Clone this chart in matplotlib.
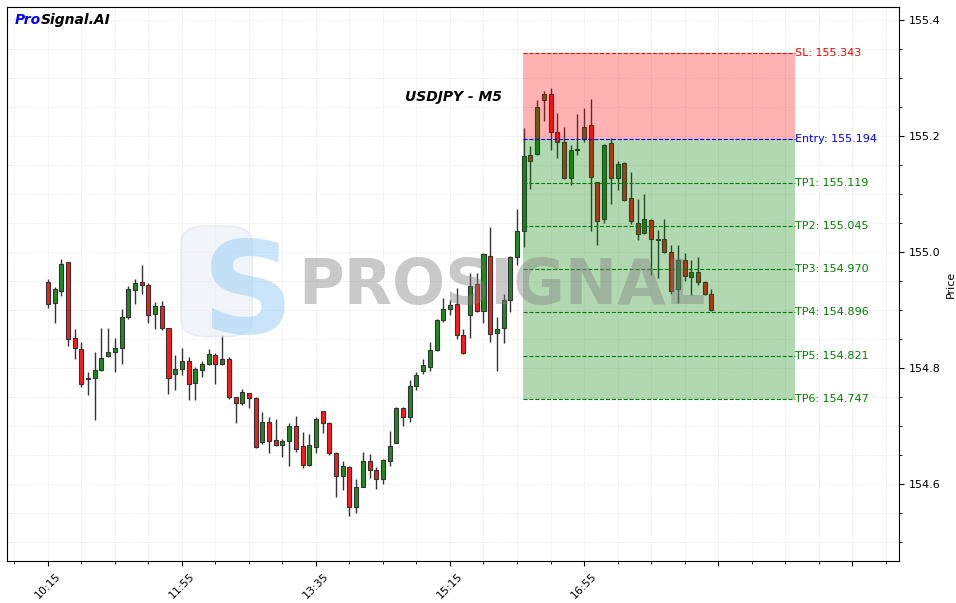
import matplotlib
matplotlib.use("Agg")
import matplotlib.pyplot as plt
from matplotlib.ticker import MultipleLocator, FuncFormatter
from matplotlib.patches import Rectangle, FancyBboxPatch

# USDJPY M5 candles, 10:15 onwards
opens = [154.948, 154.912, 154.932, 154.982, 154.851, 154.832, 154.783, 154.782, 154.796, 154.820,
         154.827, 154.834, 154.887, 154.934, 154.948, 154.943, 154.893, 154.906, 154.868, 154.789,
         154.798, 154.812, 154.774, 154.796, 154.806, 154.822, 154.806, 154.815, 154.749, 154.739,
         154.756, 154.748, 154.672, 154.707, 154.675, 154.667, 154.674, 154.699, 154.666, 154.632,
         154.664, 154.725, 154.705, 154.653, 154.613, 154.629, 154.560, 154.595, 154.640, 154.624,
         154.609, 154.640, 154.671, 154.731, 154.715, 154.768, 154.794, 154.802, 154.830, 154.882,
         154.901, 154.910, 154.856, 154.891, 154.944, 154.898, 154.993, 154.860, 154.868, 154.917,
         154.991, 155.035, 155.167, 155.168, 155.261, 155.272, 155.206, 155.189, 155.127, 155.176,
         155.194, 155.218, 155.120, 155.056, 155.187, 155.127, 155.153, 155.093, 155.049, 155.032,
         155.055, 155.022, 155.022, 154.999, 154.936, 154.986, 154.956, 154.965, 154.948, 154.927]
highs = [154.953, 154.940, 154.987, 154.983, 154.867, 154.844, 154.793, 154.827, 154.868, 154.868,
         154.851, 154.901, 154.941, 154.953, 154.978, 154.946, 154.913, 154.916, 154.869, 154.822,
         154.834, 154.819, 154.801, 154.811, 154.832, 154.825, 154.857, 154.818, 154.750, 154.763,
         154.757, 154.749, 154.724, 154.716, 154.712, 154.678, 154.705, 154.717, 154.690, 154.686,
         154.716, 154.726, 154.706, 154.654, 154.640, 154.630, 154.608, 154.655, 154.652, 154.629,
         154.643, 154.691, 154.732, 154.732, 154.779, 154.792, 154.815, 154.845, 154.884, 154.920,
         154.917, 154.937, 154.867, 154.964, 154.963, 154.998, 155.043, 154.888, 154.928, 154.992,
         155.074, 155.213, 155.182, 155.261, 155.278, 155.282, 155.239, 155.215, 155.184, 155.237,
         155.248, 155.263, 155.121, 155.185, 155.196, 155.156, 155.154, 155.137, 155.091, 155.099,
         155.056, 155.037, 155.056, 155.012, 155.012, 154.998, 154.986, 154.991, 154.949, 154.936]
lows = [154.903, 154.877, 154.924, 154.838, 154.815, 154.767, 154.753, 154.710, 154.795, 154.818,
        154.793, 154.806, 154.884, 154.910, 154.927, 154.877, 154.867, 154.866, 154.755, 154.762,
        154.788, 154.745, 154.745, 154.785, 154.805, 154.772, 154.805, 154.746, 154.705, 154.736,
        154.731, 154.662, 154.669, 154.653, 154.666, 154.647, 154.631, 154.655, 154.627, 154.631,
        154.653, 154.687, 154.650, 154.577, 154.590, 154.545, 154.550, 154.594, 154.610, 154.591,
        154.600, 154.630, 154.670, 154.700, 154.706, 154.761, 154.790, 154.794, 154.829, 154.879,
        154.891, 154.849, 154.824, 154.851, 154.897, 154.877, 154.844, 154.794, 154.843, 154.896,
        154.978, 155.008, 155.108, 155.167, 155.226, 155.175, 155.162, 155.126, 155.115, 155.167,
        155.189, 155.036, 155.012, 155.049, 155.082, 155.106, 155.088, 155.048, 155.020, 155.031,
        154.960, 154.955, 154.998, 154.927, 154.912, 154.949, 154.925, 154.943, 154.925, 154.898]
closes = [154.910, 154.936, 154.979, 154.849, 154.834, 154.772, 154.781, 154.796, 154.817, 154.827,
          154.834, 154.887, 154.936, 154.946, 154.943, 154.891, 154.906, 154.868, 154.782, 154.798,
          154.812, 154.772, 154.798, 154.807, 154.824, 154.806, 154.815, 154.749, 154.739, 154.758,
          154.748, 154.663, 154.706, 154.673, 154.667, 154.673, 154.700, 154.660, 154.632, 154.667,
          154.712, 154.705, 154.653, 154.613, 154.631, 154.560, 154.595, 154.640, 154.623, 154.609,
          154.641, 154.666, 154.731, 154.715, 154.769, 154.787, 154.805, 154.831, 154.883, 154.901,
          154.908, 154.856, 154.825, 154.941, 154.898, 154.996, 154.858, 154.867, 154.917, 154.991,
          155.035, 155.165, 155.156, 155.249, 155.272, 155.206, 155.189, 155.127, 155.175, 155.177,
          155.215, 155.129, 155.053, 155.184, 155.127, 155.151, 155.089, 155.053, 155.031, 155.056,
          155.022, 155.020, 154.999, 154.932, 154.986, 154.958, 154.965, 154.948, 154.927, 154.899]

tick_labels = ['10:15', '11:55', '13:35', '15:15', '16:55']

# trade levels
sl = 155.343
entry = 155.194
tps = [155.119, 155.045, 154.970, 154.896, 154.821, 154.747]
signal_idx = 71
zone_len = 40.6

fig = plt.figure(figsize=(9.56, 6.03), dpi=100)
ax = fig.add_axes([0.0073, 0.0697, 0.9331, 0.9187])

# candles
for i in range(len(opens)):
    o, h, l, c = opens[i], highs[i], lows[i], closes[i]
    col = '#1f8a1f' if c >= o else '#ff1a1a'
    ax.vlines(i, l, h, color='#333333', lw=1, zorder=2)
    ax.bar(i, max(abs(c - o), 0.0008), bottom=min(o, c), width=0.6,
           color=col, edgecolor='#333333', lw=0.8, zorder=3)

# sl / tp zones
x0 = signal_idx - 0.15
x1 = x0 + zone_len
ax.add_patch(Rectangle((x0, entry), zone_len, sl - entry, color='red', alpha=0.3, lw=0, zorder=4))
ax.add_patch(Rectangle((x0, tps[-1]), zone_len, entry - tps[-1], color='green', alpha=0.3, lw=0, zorder=4))

ax.hlines(sl, x0, x1, colors='red', linestyles='--', lw=0.8, zorder=5)
ax.text(x1, sl, f'SL: {sl:.3f}', color='red', fontsize=8, va='center', ha='left')
ax.hlines(entry, x0, x1, colors='blue', linestyles='--', lw=0.8, zorder=5)
ax.text(x1, entry, f'Entry: {entry:.3f}', color='blue', fontsize=8, va='center', ha='left')
for k, tp in enumerate(tps):
    ax.hlines(tp, x0, x1, colors='green', linestyles='--', lw=0.8, zorder=5)
    ax.text(x1, tp, f'TP{k + 1}: {tp:.3f}', color='green', fontsize=8, va='center', ha='left')

# watermark
ax.add_patch(FancyBboxPatch((0.2, 0.41), 0.07, 0.19, boxstyle='round,pad=0.005,rounding_size=0.03',
                            transform=ax.transAxes, fc='#e8eef4', ec='#dde3ea', alpha=0.6, zorder=6))
ax.text(0.27, 0.475, 'S', transform=ax.transAxes, fontsize=92, fontweight='bold',
        color='#9fd0f7', alpha=0.55, ha='center', va='center', zorder=7)
ax.text(0.555, 0.495, 'PROSIGNAL', transform=ax.transAxes, fontsize=45, fontweight='bold',
        color='gray', alpha=0.42, ha='center', va='center', zorder=7)

# headings
ax.text(0.5, 0.85, 'USDJPY - M5', transform=ax.transAxes, fontsize=10, fontweight='bold',
        fontstyle='italic', ha='center', va='top')
t1 = ax.text(0.009, 0.99, 'Pro', transform=ax.transAxes, fontsize=10, fontweight='bold',
             fontstyle='italic', color='blue', va='top')
ax.annotate('Signal.AI', xy=(1, 0), xycoords=t1, fontsize=10, fontweight='bold',
            fontstyle='italic', color='black', va='bottom')

# axes
ax.set_xlim(-6.1, 127)
ax.set_ylim(154.467, 155.422)
ax.xaxis.set_major_locator(MultipleLocator(20))
ax.xaxis.set_minor_locator(MultipleLocator(5))


def fmt_time(v, pos):
    k = int(round(v / 20))
    if 0 <= k < len(tick_labels) and abs(v - 20 * k) < 1e-6:
        return tick_labels[k]
    return ''


ax.xaxis.set_major_formatter(FuncFormatter(fmt_time))
plt.setp(ax.get_xticklabels(), rotation=45, fontsize=8)
ax.yaxis.tick_right()
ax.yaxis.set_label_position('right')
ax.yaxis.set_major_locator(MultipleLocator(0.2))
ax.yaxis.set_minor_locator(MultipleLocator(0.05))
ax.yaxis.set_major_formatter(FuncFormatter(lambda v, p: f'{v:.1f}'))
ax.tick_params(axis='y', labelsize=8)
ax.set_ylabel('Price', fontsize=8)
ax.grid(True, which='both', linestyle='--', lw=0.5, color='#dddddd', alpha=0.6)
ax.set_axisbelow(True)

fig.savefig('out.png', dpi=100)
